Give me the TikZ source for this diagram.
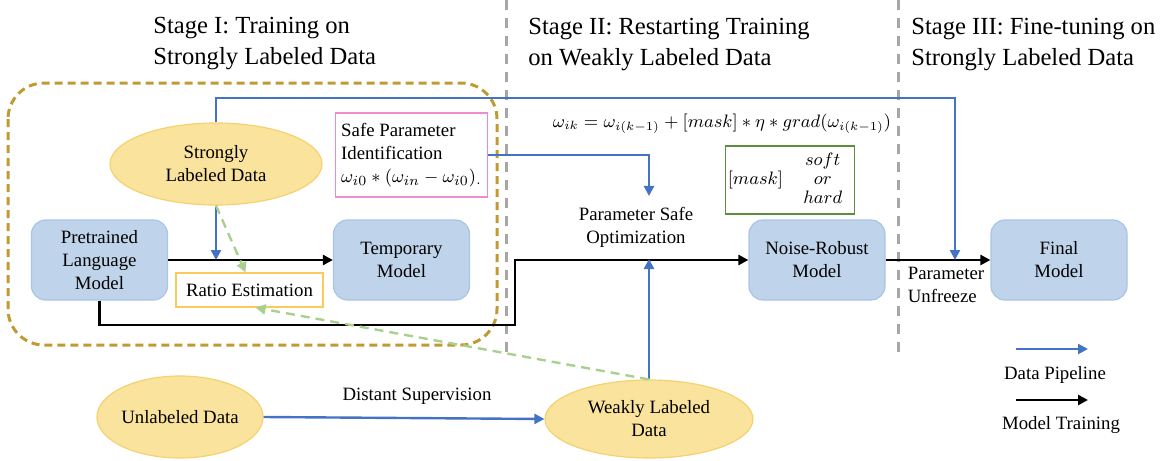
\documentclass[tikz,border=0pt]{standalone}
\usepackage{fontspec}
\setmainfont{Liberation Serif}
\usepackage{xcolor}
\usepackage{tikz}
\usetikzlibrary{positioning,shapes,arrows.meta,calc}
\definecolor{boxblue}{HTML}{BFD4EB}
\definecolor{boxedge}{HTML}{A8C4E6}
\definecolor{dataylw}{HTML}{FAE39D}
\definecolor{dataedge}{HTML}{F5D270}
\definecolor{pipeblue}{HTML}{4472C4}
\definecolor{ratiogreen}{HTML}{A9D18E}
\definecolor{stagegold}{HTML}{C09A33}
\definecolor{spipink}{HTML}{EF8BD0}
\definecolor{maskgreen}{HTML}{5E8D3E}
\definecolor{ratioylw}{HTML}{F8CB5A}
\definecolor{sepgray}{HTML}{A6A6A6}
\tikzstyle{mdl}=[%
      rectangle, rounded corners=7pt, draw=boxedge, line width=0.6pt, fill=boxblue,
      align=center, minimum height=40pt, minimum width=68pt, inner sep=2pt
]
\tikzstyle{dat}=[%
      ellipse, draw=dataedge, line width=0.6pt, fill=dataylw, align=center, inner sep=0pt
]
\tikzstyle{inv}=[%
      rectangle, draw=none, align=center, inner sep=2pt
]
\tikzstyle{ttl}=[%
      rectangle, draw=none, align=left, inner sep=0pt, anchor=north west,
      font=\fontsize{12.3}{15.5}\selectfont
]
\tikzstyle{dp}=[%
      -{Triangle[length=5pt,width=5pt]}, draw=pipeblue, line width=1.2pt
]
\tikzstyle{mt}=[%
      -{Triangle[length=5pt,width=5pt]}, draw=black, line width=1.4pt
]
\tikzstyle{re}=[%
      -{Triangle[length=5pt,width=5pt]}, draw=ratiogreen, line width=1.2pt,
      dash pattern=on 4.5pt off 3pt
]

\begin{document}
\begin{tikzpicture}[x=0.5pt, y=-0.5pt,
    font=\fontsize{9.4}{11.5}\selectfont,
]
    \useasboundingbox (0,0) rectangle (1164,461);
    % stage separators and stage I frame
    \draw[sepgray, line width=1.5pt, dash pattern=on 5pt off 4pt] (506,0) -- (506,358);
    \draw[sepgray, line width=1.5pt, dash pattern=on 5pt off 4pt] (898,0) -- (898,357);
    \draw[stagegold, line width=1.5pt, dash pattern=on 4pt off 2.5pt, rounded corners=18pt]
        (8,83) rectangle (497,345);
    \node[ttl] (st1) at (153,17) {Stage I: Training on\\Strongly Labeled Data};
    \node[ttl] (st2) at (528,18) {Stage II: Restarting Training\\on Weakly Labeled Data};
    \node[ttl] (st3) at (911,18) {Stage III: Fine-tuning on\\Strongly Labeled Data};

    % models
    \node[mdl] (plm) at (99.5,260) {Pretrained\\Language\\Model};
    \node[mdl] (tmp) at (401.5,260) {Temporary\\Model};
    \node[mdl] (nrm) at (817,260) {Noise-Robust\\Model};
    \node[mdl] (fin) at (1059,260) {Final\\Model};

    % data
    \node[dat, minimum width=106pt, minimum height=41pt] (sld) at (216,164) {Strongly\\Labeled Data};
    \node[dat, minimum width=79pt, minimum height=41pt] (ulb) at (180,417) {Unlabeled Data};
    \node[dat, minimum width=104pt, minimum height=39pt] (wld) at (649,419) {Weakly Labeled\\Data};

    % notes
    \node[rectangle, draw=ratioylw, line width=0.6pt, fill=white, minimum width=73.5pt,
          minimum height=17pt, inner sep=2pt] (ratio) at (249.5,290) {Ratio Estimation};
    \node[rectangle, draw=spipink, line width=0.6pt, fill=white, align=left,
          minimum width=69.5pt, minimum height=42pt, inner sep=3pt] (spi) at (411.5,155)
          {Safe Parameter\\Identification\\$\omega_{i0}*(\omega_{in}-\omega_{i0})_{.}$};
    \node[rectangle, draw=maskgreen, line width=0.6pt, minimum width=64pt,
          minimum height=34pt, inner sep=1pt] (msk) at (790,180)
          {$[mask]\;\;\begin{array}{c}soft\\[-2pt] or\\[-2pt] hard\end{array}$};
    \node[inv, font=\fontsize{8.8}{10}\selectfont] (upd) at (722,124)
          {$\omega_{ik}=\omega_{i(k-1)}+[mask]*\eta*grad(\omega_{i(k-1)})$};
    \node[inv, inner sep=5.5pt] (pso) at (636,227.5) {Parameter Safe\\Optimization};

    \coordinate (bend) at (515,325);
    \coordinate (top) at (955,98);

    % model training
    \draw[mt] (plm.east) -- (tmp.west);
    \draw[mt] (plm.south) |- (bend) |- (nrm.west);
    \draw[mt] (nrm.east) -- node[inv, below=1pt, xshift=4pt, align=left] {Parameter\\Unfreeze} (fin.west);

    % data pipeline
    \draw[dp] (sld.south) -- (sld.south |- plm.east);
    \draw[dp] (sld.north) |- (top) -- (top |- fin.west);
    \draw[dp] (spi.east) -| (wld.north |- pso.north);
    \draw[dp] (wld.north) -- (wld.north |- pso.south);
    \draw[dp] (ulb.east) -- node[inv, above=4pt, xshift=6.5pt] {Distant Supervision} (wld.west);

    % ratio estimation
    \draw[re] (sld.south) -- ([xshift=-2pt]ratio.north);
    \draw[re] (wld.north) -- ([xshift=3pt]ratio.south);

    % legend
    \coordinate (lga) at (1016,349);
    \coordinate (lgb) at (1088,349);
    \coordinate (lgc) at (1016,400);
    \coordinate (lgd) at (1088,400);
    \draw[dp] (lga) -- (lgb);
    \draw[mt] (lgc) -- (lgd);
    \node[inv] (lgt1) at (1055,375) {Data Pipeline};
    \node[inv] (lgt2) at (1061,425) {Model Training};
\end{tikzpicture}
\end{document}
